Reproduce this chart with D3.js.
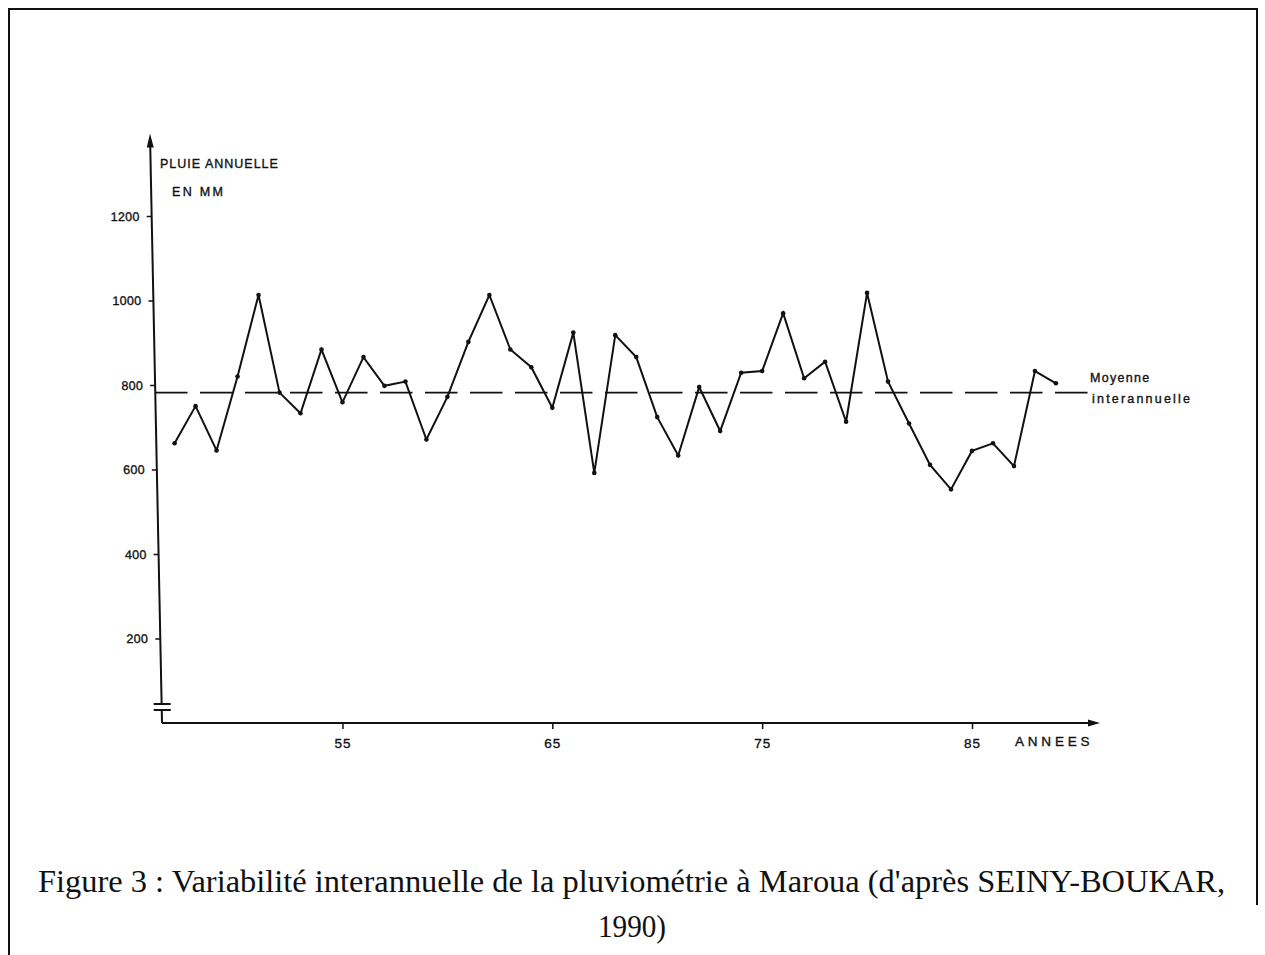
<!DOCTYPE html>
<html>
<head>
<meta charset="utf-8">
<script src="https://cdn.jsdelivr.net/npm/d3@7"></script>
<style>
  body { margin: 0; background: #fff; }
  svg { display: block; }
  .hand { font-family: "Liberation Sans", Arial, sans-serif; fill: #111; stroke: #111; stroke-width: 0.35px; }
</style>
</head>
<body>
<div id="chart"></div>
<script>
// annual rainfall at Maroua (mm)
var years = [1947, 1948, 1949, 1950, 1951, 1952, 1953, 1954, 1955, 1956,
             1957, 1958, 1959, 1960, 1961, 1962, 1963, 1964, 1965, 1966,
             1967, 1968, 1969, 1970, 1971, 1972, 1973, 1974, 1975, 1976,
             1977, 1978, 1979, 1980, 1981, 1982, 1983, 1984, 1985, 1986,
             1987, 1988, 1989];
var rainfall = [662, 750, 645, 820, 1013, 782, 733, 884, 759, 866,
                798, 808, 671, 772, 902, 1013, 884, 842, 746, 924,
                592, 918, 866, 724, 633, 795, 691, 829, 833, 970,
                816, 855, 713, 1018, 808, 709, 611, 553, 644, 662,
                608, 833, 804];
var meanRain = 782;

var yTicks = [200, 400, 600, 800, 1000, 1200];
var xTicks = [1955, 1965, 1975, 1985];

var svgWidth = 1265;
var svgHeight = 955;

var svg = d3.select("#chart")
    .append("svg")
    .attr("width", svgWidth)
    .attr("height", svgHeight);

// page frame of the scanned figure
svg.append("path")
    .attr("d", "M9,955 L9,9 L1257,9 L1257,905")
    .attr("fill", "none")
    .attr("stroke", "#111")
    .attr("stroke-width", 2);

var x = d3.scaleLinear()
    .domain([1946.4, 1991.1])
    .range([162, 1100]);

var y = d3.scaleLinear()
    .domain([0, 1400])
    .range([723, 131.5]);

// y axis (hand drawn, slightly leaning)
var yAxisG = svg.append("g")
    .attr("transform", "translate(147.25,0) skewX(1.17)");

var leftAxis = d3.axisLeft(y)
    .tickValues(yTicks)
    .tickSize(5)
    .tickSizeOuter(0)
    .tickPadding(7)
    .tickFormat(d3.format("d"));

yAxisG.call(leftAxis);
yAxisG.select(".domain")
    .attr("d", `M0,${y(0)}V${y(1385)}`)
    .attr("stroke", "#111")
    .attr("stroke-width", 2);
yAxisG.selectAll(".tick line").attr("stroke", "#111").attr("stroke-width", 1.5);
yAxisG.selectAll(".tick text")
    .attr("class", "hand")
    .style("font-size", "12.5px")
    .style("letter-spacing", "0.3px");

// arrow head on the y axis
yAxisG.append("path")
    .attr("d", `M0,${y(1395)} L-3.5,${y(1362)} L3.5,${y(1362)} Z`)
    .attr("fill", "#111");

// axis break marks
yAxisG.append("line")
    .attr("x1", 0).attr("x2", 0)
    .attr("y1", y(45)).attr("y2", y(31))
    .attr("stroke", "#fff").attr("stroke-width", 4);
[45, 31].forEach(function (v) {
    yAxisG.append("line")
        .attr("x1", -8).attr("x2", 9)
        .attr("y1", y(v)).attr("y2", y(v))
        .attr("stroke", "#111")
        .attr("stroke-width", 2);
});

// x axis
var bottomAxis = d3.axisBottom(x)
    .tickValues(xTicks)
    .tickSize(6)
    .tickSizeOuter(0)
    .tickPadding(9)
    .tickFormat(d => String(d).slice(2));

var xAxisG = svg.append("g")
    .attr("transform", `translate(0, ${y(0)})`)
    .call(bottomAxis);
xAxisG.select(".domain")
    .attr("d", `M${x.range()[0]},0H${x.range()[1] - 4}`)
    .attr("stroke", "#111")
    .attr("stroke-width", 2);
xAxisG.selectAll(".tick line").attr("stroke", "#111").attr("stroke-width", 1.5);
xAxisG.selectAll(".tick text")
    .attr("class", "hand")
    .style("font-size", "13.5px")
    .style("letter-spacing", "1px");

xAxisG.append("path")
    .attr("d", `M${x.range()[1]},0 l-12,-3.5 l0,7 Z`)
    .attr("fill", "#111");

// axis titles
svg.append("text")
    .attr("class", "hand")
    .attr("x", 160).attr("y", 168)
    .style("font-size", "12.5px")
    .style("letter-spacing", "1px")
    .text("PLUIE ANNUELLE");

svg.append("text")
    .attr("class", "hand")
    .attr("x", 172).attr("y", 196)
    .style("font-size", "12.5px")
    .style("letter-spacing", "2.3px")
    .text("EN  MM");

svg.append("text")
    .attr("class", "hand")
    .attr("x", 1015).attr("y", 746)
    .style("font-size", "13.5px")
    .style("letter-spacing", "3.8px")
    .text("ANNEES");

// mean line (dashed)
svg.append("line")
    .attr("x1", 155).attr("x2", 1090)
    .attr("y1", y(meanRain)).attr("y2", y(meanRain))
    .attr("stroke", "#111")
    .attr("stroke-width", 1.8)
    .attr("stroke-dasharray", "32.5,12.5");

svg.append("text")
    .attr("class", "hand")
    .attr("x", 1090).attr("y", 382)
    .style("font-size", "12.5px")
    .style("letter-spacing", "1.3px")
    .text("Moyenne");

svg.append("text")
    .attr("class", "hand")
    .attr("x", 1092).attr("y", 403)
    .style("font-size", "12.5px")
    .style("letter-spacing", "2.2px")
    .text("interannuelle");

// rainfall series
var rainData = years.map((yr, i) => ({ year: yr, rain: rainfall[i] }));

var line = d3.line()
    .x(d => x(d.year))
    .y(d => y(d.rain));

svg.append("path")
    .datum(rainData)
    .attr("fill", "none")
    .attr("stroke", "#111")
    .attr("stroke-width", 2)
    .attr("stroke-linejoin", "miter")
    .attr("d", line);

svg.selectAll("circle.pt")
    .data(rainData)
    .enter()
    .append("circle")
    .attr("class", "pt")
    .attr("cx", d => x(d.year))
    .attr("cy", d => y(d.rain))
    .attr("r", 2.3)
    .attr("fill", "#111");

// caption
var caption = svg.append("g")
    .style("font-family", "'Liberation Serif', 'Times New Roman', serif")
    .style("font-size", "31px")
    .attr("fill", "#111");

caption.append("text")
    .attr("x", 38).attr("y", 892)
    .attr("textLength", 1187)
    .attr("lengthAdjust", "spacingAndGlyphs")
    .text("Figure 3 : Variabilité interannuelle de la pluviométrie à Maroua (d'après SEINY-BOUKAR,");

caption.append("text")
    .attr("x", 632).attr("y", 937)
    .attr("text-anchor", "middle")
    .attr("textLength", 68)
    .attr("lengthAdjust", "spacingAndGlyphs")
    .text("1990)");
</script>
</body>
</html>
